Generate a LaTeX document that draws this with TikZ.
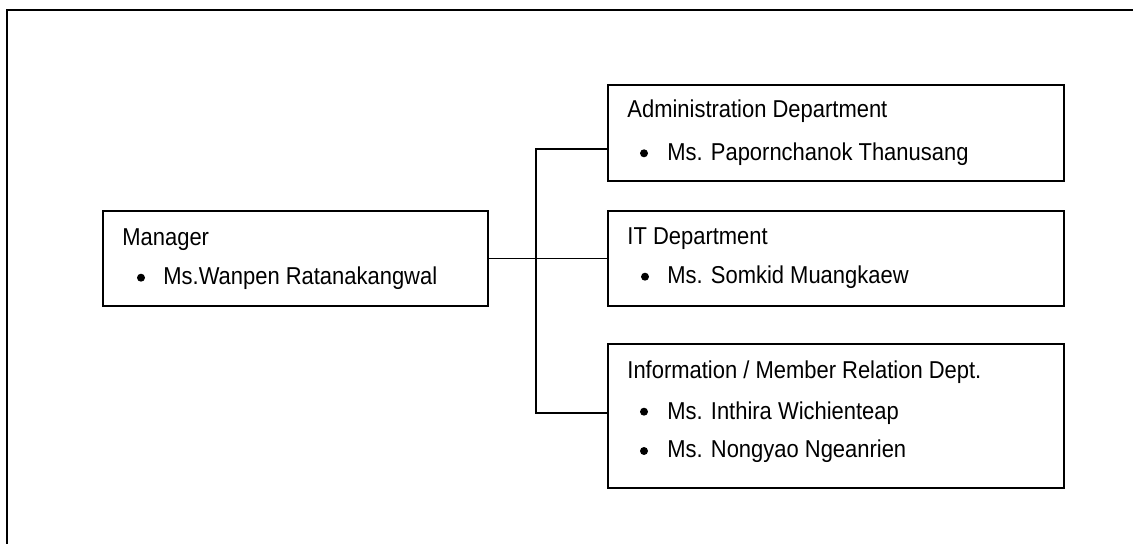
\documentclass[tikz,border=0pt]{standalone}
\usepackage{fontspec}
\setmainfont{Liberation Sans}
\newfontfamily\orgfont[FakeStretch=0.9]{Liberation Sans}
\usetikzlibrary{fit}
\begin{document}
\begin{tikzpicture}[x=0.5pt,y=-0.5pt,
  frame/.style={line width=1pt,black},
  unitbox/.style={draw=black,line width=1pt,inner sep=0pt,fill=white},
  link/.style={line width=0.8pt,black},
  txt/.style={anchor=base west,inner sep=0pt,font=\orgfont\fontsize{12.2}{14}\selectfont},
  bul/.style={circle,fill=black,inner sep=0pt,minimum size=4pt}]
\useasboundingbox (0,0) rectangle (1133,544);
\fill[white] (0,0) rectangle (1133,544);
% outer page frame (top and left edges)
\draw[frame] (7,545) -- (7,10) -- (1134,10);

% unit boxes
\node[unitbox,fit={(103,211) (488,306)}] (mgr) {};
\node[unitbox,fit={(608,85) (1064,181)}] (adm) {};
\node[unitbox,fit={(608,211) (1064,306)}] (it) {};
\node[unitbox,fit={(608,344) (1064,488)}] (inf) {};

% connectors
\coordinate (jt) at (536,149);
\coordinate (jb) at (536,413);
\draw[link] (mgr.east) -- (it.west);
\draw[link] (adm.west |- jt) -- (jt) -- (jb) -- (inf.west |- jb);

% Manager
\node[txt] (mgr-h) at (122,246) {Manager};
\node[bul] (mgr-b1) at (141,277.7) {};
\node[txt] (mgr-p1) at (163,285) {Ms.Wanpen Ratanakangwal};

% Administration
\node[txt] (adm-h) at (627,118) {Administration Department};
\node[bul] (adm-b1) at (644,153.3) {};
\node[txt] (adm-p1) at (667,160.7) {Ms. Papornchanok Thanusang};

% IT
\node[txt] (it-h) at (627,245) {IT Department};
\node[bul] (it-b1) at (645,276.7) {};
\node[txt] (it-p1) at (667,284) {Ms. Somkid Muangkaew};

% Information / Member Relation
\node[txt] (inf-h) at (627,379) {Information / Member Relation Dept.};
\node[bul] (inf-b1) at (644,411.7) {};
\node[txt] (inf-p1) at (667,419) {Ms. Inthira Wichienteap};
\node[bul] (inf-b2) at (644,451) {};
\node[txt] (inf-p2) at (667,458) {Ms. Nongyao Ngeanrien};
\end{tikzpicture}
\end{document}
